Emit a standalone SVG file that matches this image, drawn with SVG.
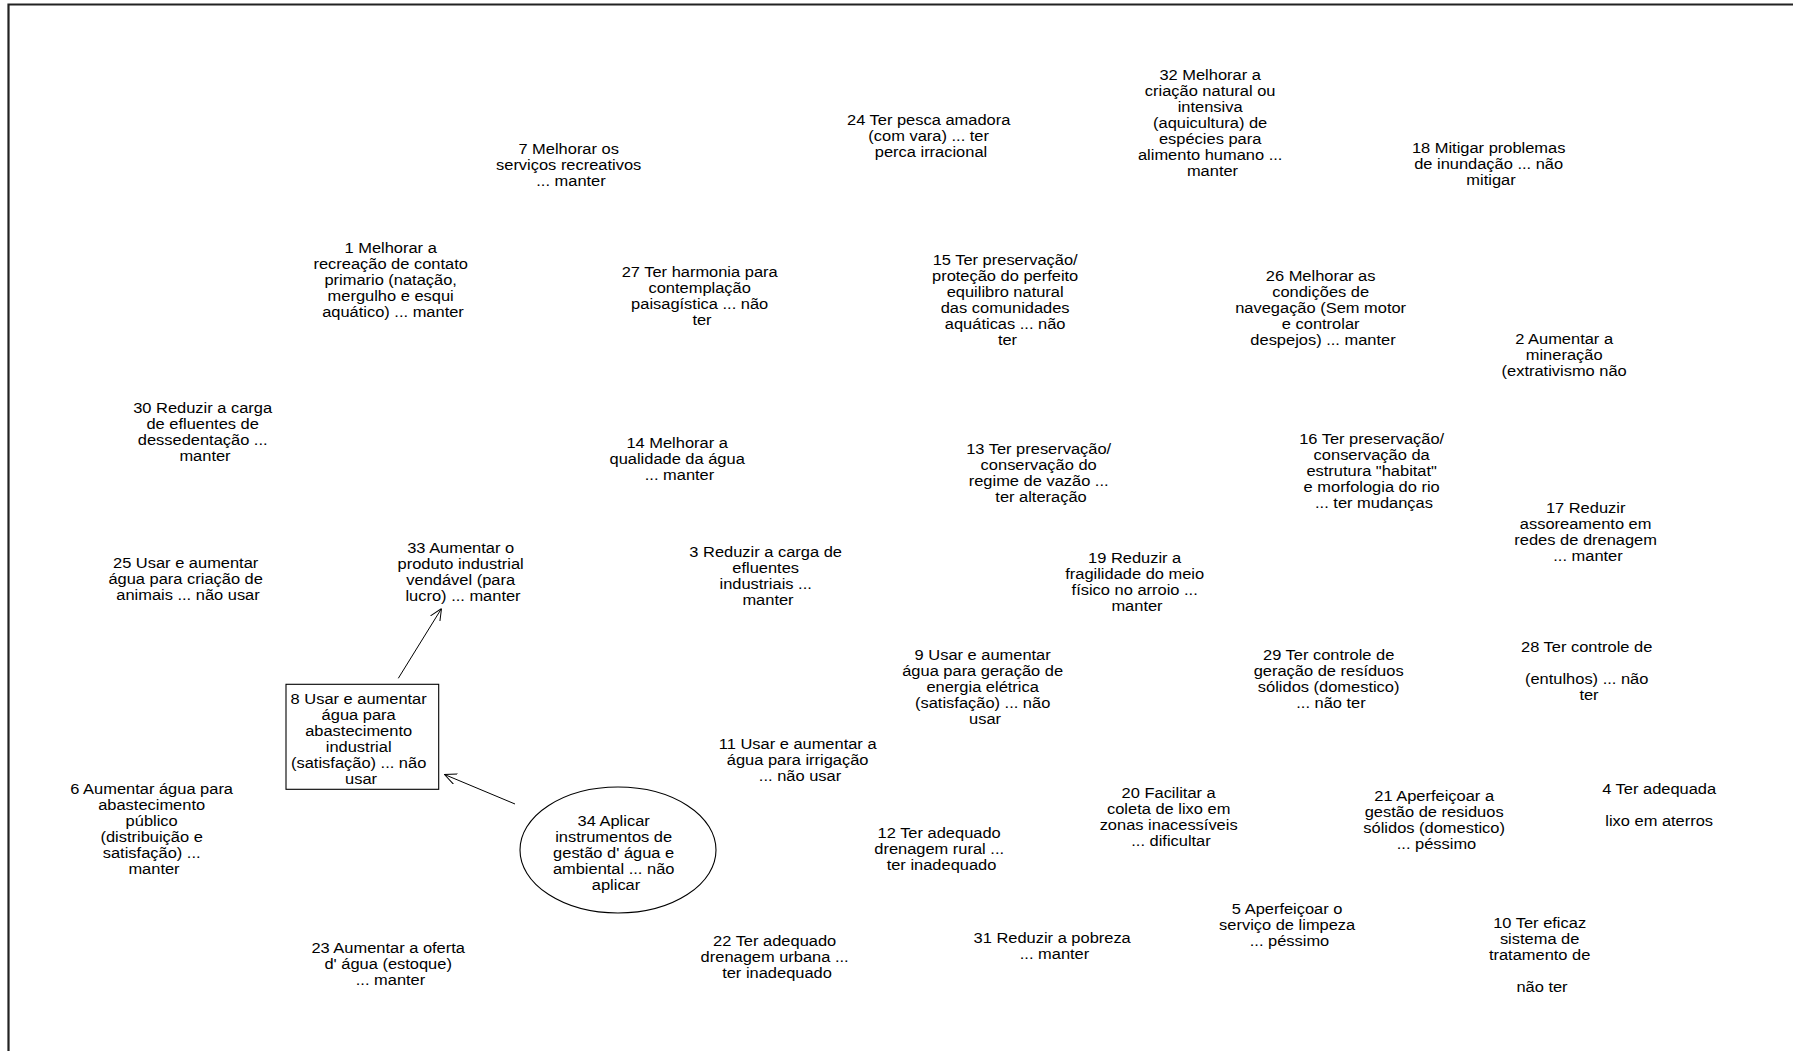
<svg xmlns="http://www.w3.org/2000/svg" width="1793" height="1051" viewBox="0 0 1793 1051">
<style>
.t{font-family:"Liberation Sans",Arial,sans-serif;font-size:14px;fill:#000;text-anchor:middle}
.c{stroke:#000;stroke-width:1;fill:none}
.shape{fill:#fff;stroke:#000;stroke-width:1.1}
.frame{fill:none;stroke:#222;stroke-width:2.2}
</style>
<defs>
<marker id="ah" viewBox="0 0 12 12" refX="12" refY="6" markerWidth="12" markerHeight="12" markerUnits="userSpaceOnUse" orient="auto">
<path d="M0,0.5 L12,6 L0,11.5" fill="none" stroke="#000" stroke-width="1"/>
</marker>
</defs>
<rect width="1793" height="1051" fill="#fff"/>
<path class="frame" d="M8.5,1051 V4.5 H1793"/>

<g id="connectors">
<line class="c" x1="398.3" y1="678.3" x2="441.5" y2="608.5" marker-end="url(#ah)"/>
<line class="c" x1="515" y1="804" x2="444.5" y2="774.5" marker-end="url(#ah)"/>
</g>

<g id="n1" transform="translate(393 0) scale(1.175 1)"><text class="t"><tspan x="-2" y="253">1 Melhorar a</tspan><tspan x="-2" y="269">recreação de contato</tspan><tspan x="-2" y="285">primario (natação,</tspan><tspan x="-2" y="301">mergulho e esqui</tspan><tspan x="0" y="317">aquático) ... manter</tspan></text></g>
<g id="n2" transform="translate(1566.5 0) scale(1.175 1)"><text class="t"><tspan x="-2" y="344">2 Aumentar a</tspan><tspan x="-2" y="360">mineração</tspan><tspan x="-2" y="376">(extrativismo não</tspan></text></g>
<g id="n3" transform="translate(768 0) scale(1.175 1)"><text class="t"><tspan x="-2" y="557">3 Reduzir a carga de</tspan><tspan x="-2" y="573">efluentes</tspan><tspan x="-2" y="589">industriais ...</tspan><tspan x="0" y="605">manter</tspan></text></g>
<g id="n4" transform="translate(1661.5 0) scale(1.175 1)"><text class="t"><tspan x="-2" y="794">4 Ter adequada</tspan><tspan x="-2" y="826">lixo em aterros</tspan></text></g>
<g id="n5" transform="translate(1289.5 0) scale(1.175 1)"><text class="t"><tspan x="-2" y="914">5 Aperfeiçoar o</tspan><tspan x="-2" y="930">serviço de limpeza</tspan><tspan x="0" y="946">... péssimo</tspan></text></g>
<g id="n6" transform="translate(154 0) scale(1.175 1)"><text class="t"><tspan x="-2" y="794">6 Aumentar água para</tspan><tspan x="-2" y="810">abastecimento</tspan><tspan x="-2" y="826">público</tspan><tspan x="-2" y="842">(distribuição e</tspan><tspan x="-2" y="858">satisfação) ...</tspan><tspan x="0" y="874">manter</tspan></text></g>
<g id="n7" transform="translate(571 0) scale(1.175 1)"><text class="t"><tspan x="-2" y="154">7 Melhorar os</tspan><tspan x="-2" y="170">serviços recreativos</tspan><tspan x="0" y="186">... manter</tspan></text></g>
<g id="n8">
<rect class="shape" x="286" y="684.3" width="152.7" height="105"/>
<g transform="translate(361 0) scale(1.175 1)"><text class="t"><tspan x="-2" y="704">8 Usar e aumentar</tspan><tspan x="-2" y="720">água para</tspan><tspan x="-2" y="736">abastecimento</tspan><tspan x="-2" y="752">industrial</tspan><tspan x="-2" y="768">(satisfação) ... não</tspan><tspan x="0" y="784">usar</tspan></text></g>
</g>
<g id="n9" transform="translate(985 0) scale(1.175 1)"><text class="t"><tspan x="-2" y="660">9 Usar e aumentar</tspan><tspan x="-2" y="676">água para geração de</tspan><tspan x="-2" y="692">energia elétrica</tspan><tspan x="-2" y="708">(satisfação) ... não</tspan><tspan x="0" y="724">usar</tspan></text></g>
<g id="n10" transform="translate(1542 0) scale(1.175 1)"><text class="t"><tspan x="-2" y="928">10 Ter eficaz</tspan><tspan x="-2" y="944">sistema de</tspan><tspan x="-2" y="960">tratamento de</tspan><tspan x="0" y="992">não ter</tspan></text></g>
<g id="n11" transform="translate(800 0) scale(1.175 1)"><text class="t"><tspan x="-2" y="749">11 Usar e aumentar a</tspan><tspan x="-2" y="765">água para irrigação</tspan><tspan x="0" y="781">... não usar</tspan></text></g>
<g id="n12" transform="translate(941.5 0) scale(1.175 1)"><text class="t"><tspan x="-2" y="838">12 Ter adequado</tspan><tspan x="-2" y="854">drenagem rural ...</tspan><tspan x="0" y="870">ter inadequado</tspan></text></g>
<g id="n13" transform="translate(1041 0) scale(1.175 1)"><text class="t"><tspan x="-2" y="454">13 Ter preservação/</tspan><tspan x="-2" y="470">conservação do</tspan><tspan x="-2" y="486">regime de vazão ...</tspan><tspan x="0" y="502">ter alteração</tspan></text></g>
<g id="n14" transform="translate(679.5 0) scale(1.175 1)"><text class="t"><tspan x="-2" y="448">14 Melhorar a</tspan><tspan x="-2" y="464">qualidade da água</tspan><tspan x="0" y="480">... manter</tspan></text></g>
<g id="n15" transform="translate(1007.5 0) scale(1.175 1)"><text class="t"><tspan x="-2" y="265">15 Ter preservação/</tspan><tspan x="-2" y="281">proteção do perfeito</tspan><tspan x="-2" y="297">equilibro natural</tspan><tspan x="-2" y="313">das comunidades</tspan><tspan x="-2" y="329">aquáticas ... não</tspan><tspan x="0" y="345">ter</tspan></text></g>
<g id="n16" transform="translate(1374 0) scale(1.175 1)"><text class="t"><tspan x="-2" y="444">16 Ter preservação/</tspan><tspan x="-2" y="460">conservação da</tspan><tspan x="-2" y="476">estrutura "habitat"</tspan><tspan x="-2" y="492">e morfologia do rio</tspan><tspan x="0" y="508">... ter mudanças</tspan></text></g>
<g id="n17" transform="translate(1588 0) scale(1.175 1)"><text class="t"><tspan x="-2" y="513">17 Reduzir</tspan><tspan x="-2" y="529">assoreamento em</tspan><tspan x="-2" y="545">redes de drenagem</tspan><tspan x="0" y="561">... manter</tspan></text></g>
<g id="n18" transform="translate(1491 0) scale(1.175 1)"><text class="t"><tspan x="-2" y="153">18 Mitigar problemas</tspan><tspan x="-2" y="169">de inundação ... não</tspan><tspan x="0" y="185">mitigar</tspan></text></g>
<g id="n19" transform="translate(1137 0) scale(1.175 1)"><text class="t"><tspan x="-2" y="563">19 Reduzir a</tspan><tspan x="-2" y="579">fragilidade do meio</tspan><tspan x="-2" y="595">físico no arroio ...</tspan><tspan x="0" y="611">manter</tspan></text></g>
<g id="n20" transform="translate(1171 0) scale(1.175 1)"><text class="t"><tspan x="-2" y="798">20 Facilitar a</tspan><tspan x="-2" y="814">coleta de lixo em</tspan><tspan x="-2" y="830">zonas inacessíveis</tspan><tspan x="0" y="846">... dificultar</tspan></text></g>
<g id="n21" transform="translate(1436.5 0) scale(1.175 1)"><text class="t"><tspan x="-2" y="801">21 Aperfeiçoar a</tspan><tspan x="-2" y="817">gestão de residuos</tspan><tspan x="-2" y="833">sólidos (domestico)</tspan><tspan x="0" y="849">... péssimo</tspan></text></g>
<g id="n22" transform="translate(777 0) scale(1.175 1)"><text class="t"><tspan x="-2" y="946">22 Ter adequado</tspan><tspan x="-2" y="962">drenagem urbana ...</tspan><tspan x="0" y="978">ter inadequado</tspan></text></g>
<g id="n23" transform="translate(390.5 0) scale(1.175 1)"><text class="t"><tspan x="-2" y="953">23 Aumentar a oferta</tspan><tspan x="-2" y="969">d' água (estoque)</tspan><tspan x="0" y="985">... manter</tspan></text></g>
<g id="n24" transform="translate(931 0) scale(1.175 1)"><text class="t"><tspan x="-2" y="125">24 Ter pesca amadora</tspan><tspan x="-2" y="141">(com vara) ... ter</tspan><tspan x="0" y="157">perca irracional</tspan></text></g>
<g id="n25" transform="translate(188 0) scale(1.175 1)"><text class="t"><tspan x="-2" y="568">25 Usar e aumentar</tspan><tspan x="-2" y="584">água para criação de</tspan><tspan x="0" y="600">animais ... não usar</tspan></text></g>
<g id="n26" transform="translate(1323 0) scale(1.175 1)"><text class="t"><tspan x="-2" y="281">26 Melhorar as</tspan><tspan x="-2" y="297">condições de</tspan><tspan x="-2" y="313">navegação (Sem motor</tspan><tspan x="-2" y="329">e controlar</tspan><tspan x="0" y="345">despejos) ... manter</tspan></text></g>
<g id="n27" transform="translate(702 0) scale(1.175 1)"><text class="t"><tspan x="-2" y="277">27 Ter harmonia para</tspan><tspan x="-2" y="293">contemplação</tspan><tspan x="-2" y="309">paisagística ... não</tspan><tspan x="0" y="325">ter</tspan></text></g>
<g id="n28" transform="translate(1589 0) scale(1.175 1)"><text class="t"><tspan x="-2" y="652">28 Ter controle de</tspan><tspan x="-2" y="684">(entulhos) ... não</tspan><tspan x="0" y="700">ter</tspan></text></g>
<g id="n29" transform="translate(1331 0) scale(1.175 1)"><text class="t"><tspan x="-2" y="660">29 Ter controle de</tspan><tspan x="-2" y="676">geração de resíduos</tspan><tspan x="-2" y="692">sólidos (domestico)</tspan><tspan x="0" y="708">... não ter</tspan></text></g>
<g id="n30" transform="translate(205 0) scale(1.175 1)"><text class="t"><tspan x="-2" y="413">30 Reduzir a carga</tspan><tspan x="-2" y="429">de efluentes de</tspan><tspan x="-2" y="445">dessedentação ...</tspan><tspan x="0" y="461">manter</tspan></text></g>
<g id="n31" transform="translate(1054.5 0) scale(1.175 1)"><text class="t"><tspan x="-2" y="943">31 Reduzir a pobreza</tspan><tspan x="0" y="959">... manter</tspan></text></g>
<g id="n32" transform="translate(1212.5 0) scale(1.175 1)"><text class="t"><tspan x="-2" y="80">32 Melhorar a</tspan><tspan x="-2" y="96">criação natural ou</tspan><tspan x="-2" y="112">intensiva</tspan><tspan x="-2" y="128">(aquicultura) de</tspan><tspan x="-2" y="144">espécies para</tspan><tspan x="-2" y="160">alimento humano ...</tspan><tspan x="0" y="176">manter</tspan></text></g>
<g id="n33" transform="translate(463 0) scale(1.175 1)"><text class="t"><tspan x="-2" y="553">33 Aumentar o</tspan><tspan x="-2" y="569">produto industrial</tspan><tspan x="-2" y="585">vendável (para</tspan><tspan x="0" y="601">lucro) ... manter</tspan></text></g>
<g id="n34">
<ellipse class="shape" cx="618" cy="850" rx="98" ry="63"/>
<g transform="translate(616 0) scale(1.175 1)"><text class="t"><tspan x="-2" y="826.5">34 Aplicar</tspan><tspan x="-2" y="842.5">instrumentos de</tspan><tspan x="-2" y="858.5">gestão d' água e</tspan><tspan x="-2" y="874.5">ambiental ... não</tspan><tspan x="0" y="890.5">aplicar</tspan></text></g>
</g>
</svg>
